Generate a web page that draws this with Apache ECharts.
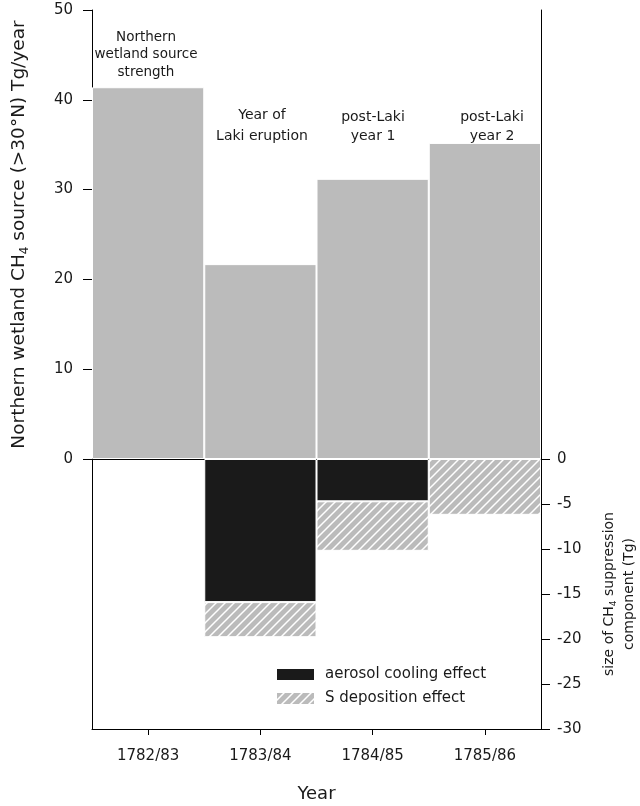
<!DOCTYPE html>
<html>
<head>
<meta charset="utf-8">
<script src="https://cdn.jsdelivr.net/npm/echarts@6/dist/echarts.min.js"></script>
<style>
html,body{margin:0;padding:0;background:#fff;}
#chart{width:640px;height:806px;}
</style>
</head>
<body>
<div id="chart"></div>
<script>
// ---- data ----
var years = ['1782/83', '1783/84', '1784/85', '1785/86'];
var sourceStrength = [41.4, 21.7, 31.2, 35.2];
var aerosolCooling = [null, -15.9, -4.7, null];
var sDeposition = [null, -3.9, -5.5, -6.2];
var leftTicks = [0, 10, 20, 30, 40, 50];
var rightTicks = [0, -5, -10, -15, -20, -25, -30];

var FONT = 'DejaVu Sans';
var TXT = '#1a1a1a';

// hatch pattern (grey with white diagonal stripes)
function makeHatch() {
  var s = 9;
  var c = document.createElement('canvas');
  c.width = s; c.height = s;
  var g = c.getContext('2d');
  g.fillStyle = '#bbbbbb';
  g.fillRect(0, 0, s, s);
  g.strokeStyle = '#ffffff';
  g.lineWidth = 1.5;
  g.beginPath();
  g.moveTo(-2, s + 2); g.lineTo(s + 2, -2);
  g.moveTo(-2, 2); g.lineTo(2, -2);
  g.moveTo(s - 2, s + 2); g.lineTo(s + 2, s - 2);
  g.stroke();
  return c;
}
var hatch = {image: makeHatch(), repeat: 'repeat'};

var chart = echarts.init(document.getElementById('chart'), null, {renderer: 'canvas'});

var lineStyle = {color: '#000', width: 1};

var option = {
  animation: false,
  backgroundColor: '#fff',
  textStyle: {fontFamily: FONT},
  grid: [
    {left: 92, right: 99, top: 10, height: 449, containLabel: false, outerBoundsMode: 'none'},
    {left: 92, right: 99, top: 459, height: 270, containLabel: false, outerBoundsMode: 'none'}
  ],
  xAxis: [
    {type: 'category', gridIndex: 0, data: years, position: 'bottom',
      axisLine: {lineStyle: lineStyle}, axisTick: {show: false}, axisLabel: {show: false}},
    {type: 'category', gridIndex: 0, data: years, position: 'top',
      axisLine: {lineStyle: lineStyle}, axisTick: {show: false}, axisLabel: {show: false}},
    {type: 'category', gridIndex: 1, data: years, position: 'bottom',
      axisLine: {onZero: false, lineStyle: lineStyle},
      axisTick: {show: true, alignWithLabel: true, length: 6, lineStyle: lineStyle},
      axisLabel: {color: TXT, fontSize: 15, fontFamily: FONT, margin: 20},
      name: 'Year', nameLocation: 'middle', nameGap: 56,
      nameTextStyle: {color: TXT, fontSize: 18, fontFamily: FONT}}
  ],
  yAxis: [
    {type: 'value', gridIndex: 0, position: 'left', min: 0, max: 50, interval: 10,
      axisLine: {show: true, lineStyle: lineStyle},
      axisTick: {show: true, length: 9, lineStyle: lineStyle},
      axisLabel: {color: TXT, fontSize: 15, fontFamily: FONT, margin: 19,
        formatter: function (v) { return leftTicks.indexOf(v) >= 0 ? String(v) : ''; }},
      splitLine: {show: false},
      name: '{a|Northern wetland CH}{s|4}{a| source (>30°N) Tg/year}',
      nameLocation: 'middle', nameGap: 61, nameRotate: 90,
      nameTextStyle: {color: TXT, fontFamily: FONT,
        rich: {
          a: {fontSize: 18.5, fontFamily: FONT, color: TXT},
          s: {fontSize: 12, fontFamily: FONT, color: TXT, padding: [12, 0, 0, 0]}
        }}},
    {type: 'value', gridIndex: 0, position: 'right', min: 0, max: 50,
      axisLine: {show: true, lineStyle: lineStyle}, axisTick: {show: false},
      axisLabel: {show: false}, splitLine: {show: false}},
    {type: 'value', gridIndex: 1, position: 'right', min: -30, max: 0, interval: 5,
      axisLine: {show: true, lineStyle: lineStyle},
      axisTick: {show: true, length: 9, lineStyle: lineStyle},
      axisLabel: {color: TXT, fontSize: 15, fontFamily: FONT, margin: 16,
        formatter: function (v) { return rightTicks.indexOf(v) >= 0 ? String(v) : ''; }},
      splitLine: {show: false},
      name: '{a|size of CH}{s|4}{a| suppression}\n{a|component (Tg)}',
      nameLocation: 'middle', nameGap: 58, nameRotate: 90,
      nameTextStyle: {color: TXT, fontFamily: FONT, lineHeight: 20,
        rich: {
          a: {fontSize: 14, fontFamily: FONT, color: TXT, lineHeight: 20},
          s: {fontSize: 9, fontFamily: FONT, color: TXT, padding: [9, 0, 0, 0], lineHeight: 20}
        }}},
    {type: 'value', gridIndex: 1, position: 'left', min: -30, max: 0,
      axisLine: {show: true, lineStyle: lineStyle}, axisTick: {show: false},
      axisLabel: {show: false}, splitLine: {show: false}}
  ],
  legend: {
    orient: 'vertical', left: 275, top: 667, padding: 0,
    itemWidth: 39, itemHeight: 13, itemGap: 9,
    icon: 'rect',
    textStyle: {color: TXT, fontSize: 15, fontFamily: FONT, padding: [2, 0, 0, 5]},
    data: ['aerosol cooling effect', 'S deposition effect']
  },
  series: [
    {name: 'Northern wetland source', type: 'bar', xAxisIndex: 0, yAxisIndex: 0,
      data: sourceStrength, barCategoryGap: '0%',
      itemStyle: {color: '#bbbbbb', borderColor: '#ffffff', borderWidth: 1}},
    {name: 'aerosol cooling effect', type: 'bar', xAxisIndex: 2, yAxisIndex: 2,
      stack: 'neg', data: aerosolCooling, barCategoryGap: '0%',
      itemStyle: {color: '#1a1a1a', borderColor: '#ffffff', borderWidth: 1}},
    {name: 'S deposition effect', type: 'bar', xAxisIndex: 2, yAxisIndex: 2,
      stack: 'neg', data: sDeposition, barCategoryGap: '0%',
      itemStyle: {color: hatch, borderColor: '#ffffff', borderWidth: 1}}
  ],
  graphic: [
    {type: 'text', style: {text: 'Northern\nwetland source\nstrength',
      x: 146, y: 28.5, align: 'center', verticalAlign: 'top', lineHeight: 17.5,
      font: '13.5px "DejaVu Sans"', fill: TXT}},
    {type: 'text', style: {text: 'Year of\nLaki eruption',
      x: 262, y: 104.5, align: 'center', verticalAlign: 'top', lineHeight: 21,
      font: '14px "DejaVu Sans"', fill: TXT}},
    {type: 'text', style: {text: 'post-Laki\nyear 1',
      x: 373, y: 107.5, align: 'center', verticalAlign: 'top', lineHeight: 19,
      font: '14px "DejaVu Sans"', fill: TXT}},
    {type: 'text', style: {text: 'post-Laki\nyear 2',
      x: 492, y: 107.5, align: 'center', verticalAlign: 'top', lineHeight: 19,
      font: '14px "DejaVu Sans"', fill: TXT}}
  ]
};
chart.setOption(option);
</script>
</body>
</html>
